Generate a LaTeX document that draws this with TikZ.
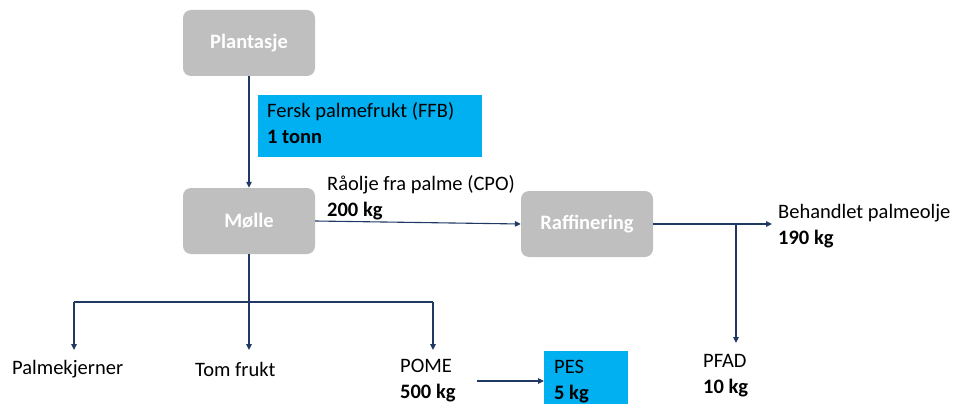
\documentclass[tikz,border=0pt]{standalone}
\usepackage{fontspec}
\setmainfont{Carlito}
\usetikzlibrary{arrows.meta}
\definecolor{boxgray}{HTML}{BFBFBF}
\definecolor{hlblue}{HTML}{00B0F0}
\definecolor{flow}{HTML}{203864}
\tikzset{
  txt/.style={font=\fontsize{20.5}{26}\selectfont},
  procbox/.style={txt, fill=boxgray, rounded corners=8pt, minimum width=132pt, minimum height=66pt, inner sep=0pt, text=white, font=\fontsize{20.5}{26}\selectfont\bfseries},
  lbl/.style={txt, anchor=base west, align=left, inner sep=0pt},
  bluebox/.style={fill=hlblue, anchor=north west, inner sep=0pt},
  flowline/.style={draw=flow, line width=1.1pt},
  flowarrow/.style={flowline, -{Triangle[length=6pt,width=5.5pt]}},
}
\begin{document}
\begin{tikzpicture}[x=1pt,y=-1pt]
\useasboundingbox (0,0) rectangle (964,404);

% process boxes
\node[procbox] (plant) at (249,43) {Plantasje};
\node[procbox] (molle) at (249,221) {Mølle};
\node[procbox] (raff) at (587,224) {Raffinering};

% blue boxes
\node[bluebox, minimum width=224pt, minimum height=62pt] (ffbbox) at (258,95) {};
\node[bluebox, minimum width=84pt, minimum height=55pt] (pes) at (544,351) {};

% labels (base = last line baseline)
\node[lbl] (ffb) at (267,143.5) {Fersk palmefrukt (FFB)\\\textbf{1 tonn}};
\node[lbl] (pestxt) at (554,399) {PES\\\textbf{5 kg}};
\node[lbl] (cpo) at (327,216) {Råolje fra palme (CPO)\\\textbf{200 kg}};
\node[lbl] (beh) at (778,244) {Behandlet palmeolje\\\textbf{190 kg}};
\node[lbl] (pfad) at (703,393) {PFAD\\\textbf{10 kg}};
\node[lbl] (kjern) at (12,374) {Palmekjerner};
\node[lbl] (tom) at (195,376) {Tom frukt};
\node[lbl] (pome) at (400,398) {POME\\\textbf{500 kg}};

% free ends
\coordinate (behin) at (772,224);
\coordinate (split) at (736,224);
\coordinate (pfadin) at (736,343);
\coordinate (hubl) at (74,302);
\coordinate (hubr) at (433,302);
\coordinate (kjernin) at (74,350);
\coordinate (tomin) at (249,350);
\coordinate (pomein) at (433,350);
\coordinate (pesout) at (477,381);

% connectors
\draw[flowarrow] (plant.south) -- (molle.north);
\draw[flowarrow] (molle.east) -- (raff.west);
\draw[flowarrow] (raff.east) -- (behin);
\draw[flowarrow] (split) -- (pfadin);
\draw[flowarrow] (molle.south) -- (tomin);
\draw[flowline] (hubl) -- (hubr);
\draw[flowarrow] (hubl) -- (kjernin);
\draw[flowarrow] (hubr) -- (pomein);
\draw[flowarrow] (pesout) -- (pes.west |- pesout);
\end{tikzpicture}
\end{document}
